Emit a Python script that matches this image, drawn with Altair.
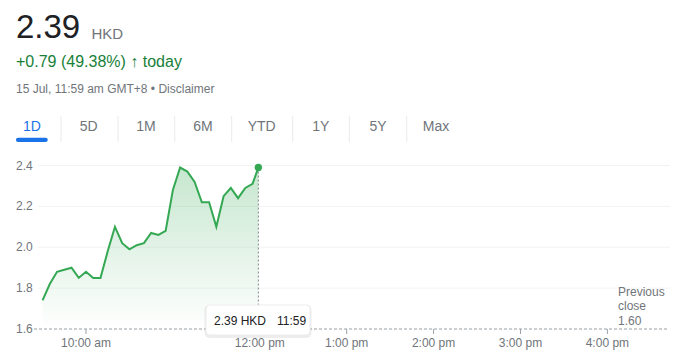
import altair as alt
import pandas as pd

# ---------------- data ----------------
TIMES = ["9:30", "9:35", "9:40", "9:45", "9:50", "9:55", "10:00", "10:05", "10:10", "10:15",
         "10:20", "10:25", "10:30", "10:35", "10:40", "10:45", "10:50", "10:55", "11:00", "11:05",
         "11:10", "11:15", "11:20", "11:25", "11:30", "11:35", "11:40", "11:45", "11:50", "11:55",
         "11:59"]
PRICES = [1.74, 1.82, 1.88, 1.89, 1.90, 1.85, 1.88, 1.85, 1.85, 1.98,
          2.10, 2.02, 1.99, 2.01, 2.02, 2.07, 2.06, 2.08, 2.28, 2.39,
          2.37, 2.32, 2.22, 2.22, 2.10, 2.25, 2.29, 2.24, 2.29, 2.31,
          2.39]
PREV_CLOSE = 1.60
Y_TICKS = [1.6, 1.8, 2.0, 2.2, 2.4]
X_TICK_TIMES = ["10:00", "12:00", "13:00", "14:00", "15:00", "16:00"]
X_TICK_LABELS = ["10:00 am", "12:00 pm", "1:00 pm", "2:00 pm", "3:00 pm", "4:00 pm"]
TABS = ["1D", "5D", "1M", "6M", "YTD", "1Y", "5Y", "Max"]
PRICE_TEXT = "2.39"
CURRENCY = "HKD"
CHANGE_TEXT = "+0.79 (49.38%) \u2191 today"
DATE_TEXT = "15 Jul, 11:59 am GMT+8 \u2022 Disclaimer"

# ---------------- layout ----------------
TAB_X = [24, 80.7, 138, 195, 253.7, 312.8, 370, 428]
SEP_X = [53, 110, 166.7, 223.7, 284.7, 341.3, 398.7]
GREEN = "#34a853"
GREY = "#70757a"
FONT = "Liberation Sans"


def to_min(s):
    h, m = s.split(":")
    return int(h) * 60 + int(m)


df = pd.DataFrame({"m": [to_min(t) for t in TIMES], "p": PRICES})
last = df.iloc[-1]

xs = alt.Scale(domain=[565, 1002], range=[27.3, 660.2], nice=False, zero=False)
ys = alt.Scale(domain=[1.6, 2.4], range=[321, 157.5], nice=False, zero=False)
X = lambda f: alt.X(f, type="quantitative", scale=xs, axis=None)
Y = lambda f: alt.Y(f, type="quantitative", scale=ys, axis=None)

# gridlines
grid_df = pd.DataFrame({"v": [v for v in Y_TICKS if v != PREV_CLOSE]})
grid = alt.Chart(grid_df).mark_rule(color="#f3f3f3", strokeWidth=1).encode(
    y=Y("v"), x=alt.value(30), x2=alt.value(662))

base_df = pd.DataFrame({"v": [PREV_CLOSE]})
baseline = alt.Chart(base_df).mark_rule(color="#9aa0a6", strokeWidth=1, strokeDash=[3, 2]).encode(
    y=Y("v"), x=alt.value(26), x2=alt.value(660))

ylab_df = pd.DataFrame({"v": Y_TICKS, "lab": [f"{v:.1f}" for v in Y_TICKS]})
ylabels = alt.Chart(ylab_df).mark_text(align="left", baseline="middle", font=FONT, fontSize=12,
                                       color=GREY).encode(
    y=Y("v"), x=alt.value(8), text="lab:N")

xt_df = pd.DataFrame({"m": [to_min(t) for t in X_TICK_TIMES], "lab": X_TICK_LABELS})
xticks = alt.Chart(xt_df).mark_rule(color="#9aa0a6", strokeWidth=1).encode(
    x=X("m"), y=alt.value(321), y2=alt.value(326))
xlabels = alt.Chart(xt_df).mark_text(align="center", baseline="middle", font=FONT, fontSize=12,
                                     color=GREY).encode(
    x=X("m"), y=alt.value(335), text="lab:N")

area = alt.Chart(df).mark_area(
    color=alt.Gradient(gradient="linear",
                       stops=[alt.GradientStop(color="rgba(52,168,83,0.28)", offset=0),
                              alt.GradientStop(color="rgba(52,168,83,0.0)", offset=1)],
                       x1=1, x2=1, y1=0, y2=1)
).encode(x=X("m"), y=Y("p"), y2=alt.datum(PREV_CLOSE))

line = alt.Chart(df).mark_line(color=GREEN, strokeWidth=2, interpolate="linear").encode(
    x=X("m"), y=Y("p"))

last_df = pd.DataFrame({"m": [last["m"]], "p": [last["p"]], "b": [PREV_CLOSE]})
vline = alt.Chart(last_df).mark_rule(color="#80868b", strokeWidth=1, strokeDash=[2, 2]).encode(
    x=X("m"), y=Y("p"), y2=alt.Y2("b"))
dot = alt.Chart(last_df).mark_point(filled=True, color=GREEN, size=55, opacity=1).encode(
    x=X("m"), y=Y("p"))

# tooltip
one = pd.DataFrame({"a": [0]})
shadow = alt.Chart(one).mark_rect(color="#000000", opacity=0.07, cornerRadius=5).encode(
    x=alt.value(196.5), x2=alt.value(303.5), y=alt.value(297), y2=alt.value(330))
box = alt.Chart(one).mark_rect(color="#ffffff", stroke="#ececec", strokeWidth=1, cornerRadius=4).encode(
    x=alt.value(198), x2=alt.value(302), y=alt.value(297), y2=alt.value(327))
tip_df = pd.DataFrame({"t1": [f"{last['p']:.2f} {CURRENCY}"], "t2": [TIMES[-1]]})
tip1 = alt.Chart(tip_df).mark_text(align="left", baseline="middle", font=FONT, fontSize=12,
                                   color="#202124").encode(x=alt.value(206), y=alt.value(313), text="t1:N")
tip2 = alt.Chart(tip_df).mark_text(align="left", baseline="middle", font=FONT, fontSize=12,
                                   color="#202124").encode(x=alt.value(269), y=alt.value(313), text="t2:N")

# previous close label
pc_df = pd.DataFrame({"t": ["Previous", "close", f"{PREV_CLOSE:.2f}"], "yy": [283.5, 298, 312.5]})
pc = alt.Chart(pc_df).mark_text(align="left", baseline="middle", font=FONT, fontSize=12,
                                color=GREY).encode(x=alt.value(610), y=alt.Y("yy:Q", scale=None, axis=None),
                                                   text="t:N")

# header
def txt(t, x, y, size, color, baseline="alphabetic", align="left", weight="normal"):
    return alt.Chart(pd.DataFrame({"t": [t]})).mark_text(
        align=align, baseline=baseline, font=FONT, fontSize=size, color=color, fontWeight=weight
    ).encode(x=alt.value(x), y=alt.value(y), text="t:N")

h_price = txt(PRICE_TEXT, 8, 29.5, 33, "#202124")
h_cur = txt(CURRENCY, 83.5, 30.5, 15, GREY)
h_change = txt(CHANGE_TEXT, 8, 58.7, 16, "#188038")
h_date = txt(DATE_TEXT, 8, 84.7, 12, GREY)

tab_df = pd.DataFrame({"t": TABS, "tx": TAB_X,
                       "c": ["#1a73e8"] + [GREY] * (len(TABS) - 1)})
tabs = alt.Chart(tab_df).mark_text(align="center", baseline="middle", font=FONT, fontSize=14).encode(
    x=alt.X("tx:Q", scale=None, axis=None), y=alt.value(119.3), text="t:N",
    color=alt.Color("c:N", scale=None))
sep_df = pd.DataFrame({"sx": SEP_X})
seps = alt.Chart(sep_df).mark_rule(color="#e8eaed", strokeWidth=1).encode(
    x=alt.X("sx:Q", scale=None, axis=None), y=alt.value(108), y2=alt.value(134))
underline = alt.Chart(one).mark_rect(color="#1a73e8", cornerRadius=2).encode(
    x=alt.value(8), x2=alt.value(39.7), y=alt.value(129.7), y2=alt.value(134))

chart = alt.layer(
    grid, baseline, area, line, vline, dot, xticks, xlabels, ylabels,
    shadow, box, tip1, tip2, pc,
    h_price, h_cur, h_change, h_date, tabs, seps, underline
).properties(
    width=668, height=344, padding=0,
    autosize=alt.AutoSizeParams(type="none"), background="white"
).configure_view(strokeWidth=0)

chart.save("out.html", embed_options={"renderer": "svg", "actions": False})
